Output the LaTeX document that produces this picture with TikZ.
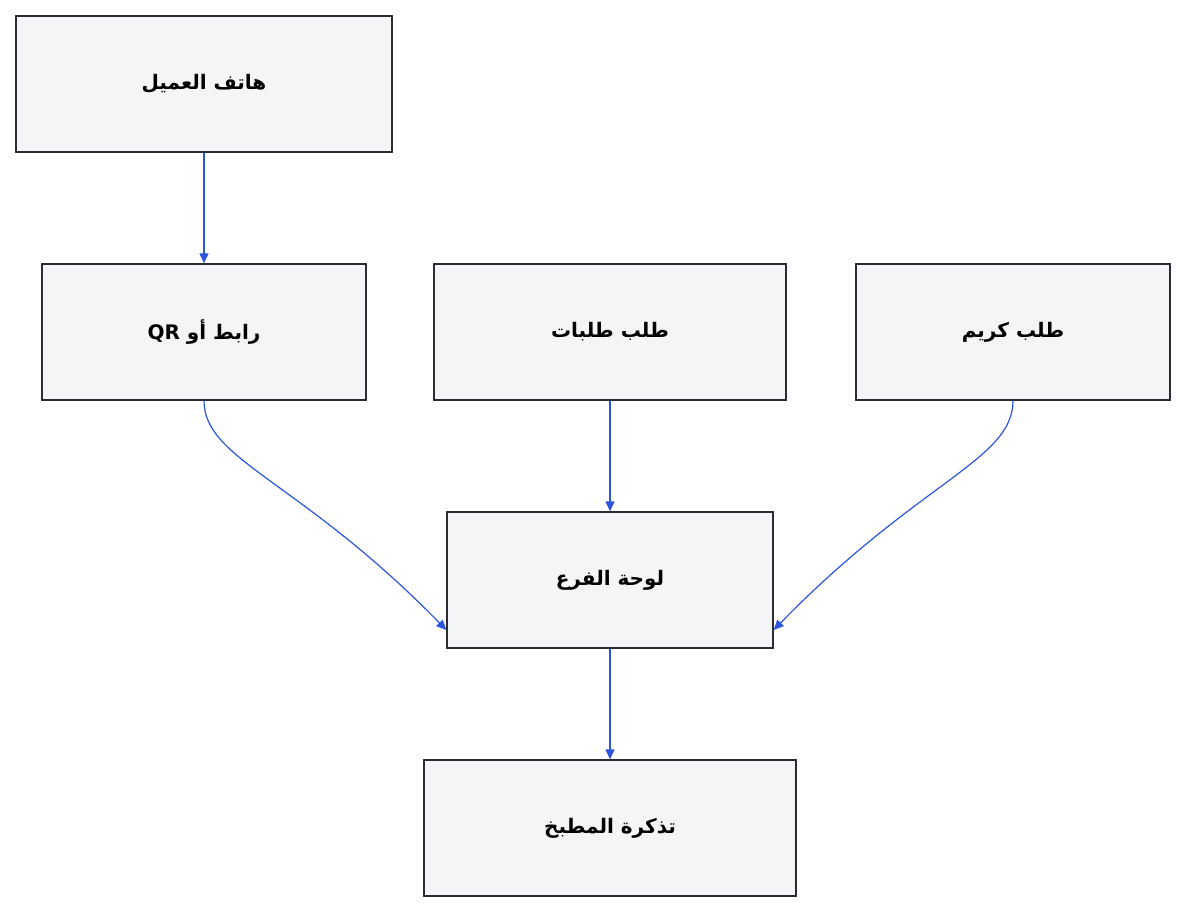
\documentclass[tikz,border=0pt]{standalone}
\usepackage{fontspec}
\newfontfamily\arabicfont[Script=Arabic]{DejaVu Sans}
\usetikzlibrary{arrows.meta}
\TeXXeTstate=1
\definecolor{boxfill}{HTML}{F4F5F7}
\definecolor{boxline}{HTML}{2B2B33}
\definecolor{edge}{HTML}{2D55DB}
\newcommand{\ar}[1]{\arabicfont\bfseries\beginR #1\endR}
\begin{document}
\begin{tikzpicture}[x=1pt,y=-1pt,
  box/.style={draw=boxline,fill=boxfill,line width=1.3pt,inner sep=0pt,font=\fontsize{20}{24}\selectfont},
  conn/.style={draw=edge,line width=1.2pt,-{Triangle[length=10pt,width=9pt]}}]
\useasboundingbox (0,0) rectangle (1186,912);
\node[box,minimum width=376pt,minimum height=136pt] (a) at (204,84) {\ar{هاتف العميل}};
\node[box,minimum width=324pt,minimum height=136pt] (b) at (204,332) {\ar{رابط أو QR}};
\node[box,minimum width=352pt,minimum height=136pt] (c) at (610,332) {\ar{طلب طلبات}};
\node[box,minimum width=314pt,minimum height=136pt] (d) at (1013,332) {\ar{طلب كريم}};
\node[box,minimum width=326pt,minimum height=136pt] (e) at (610,580) {\ar{لوحة الفرع}};
\node[box,minimum width=372pt,minimum height=136pt] (f) at (610,828) {\ar{تذكرة المطبخ}};
\coordinate (el) at ([yshift=-50pt]e.west);
\coordinate (er) at ([yshift=-50pt]e.east);
\draw[conn] (a.south) -- (b.north);
\draw[conn] (b.south) .. controls (204,460) and (300,480) .. (el);
\draw[conn] (c.south) -- (e.north);
\draw[conn] (d.south) .. controls (1013,460) and (920,480) .. (er);
\draw[conn] (e.south) -- (f.north);
\end{tikzpicture}
\end{document}
